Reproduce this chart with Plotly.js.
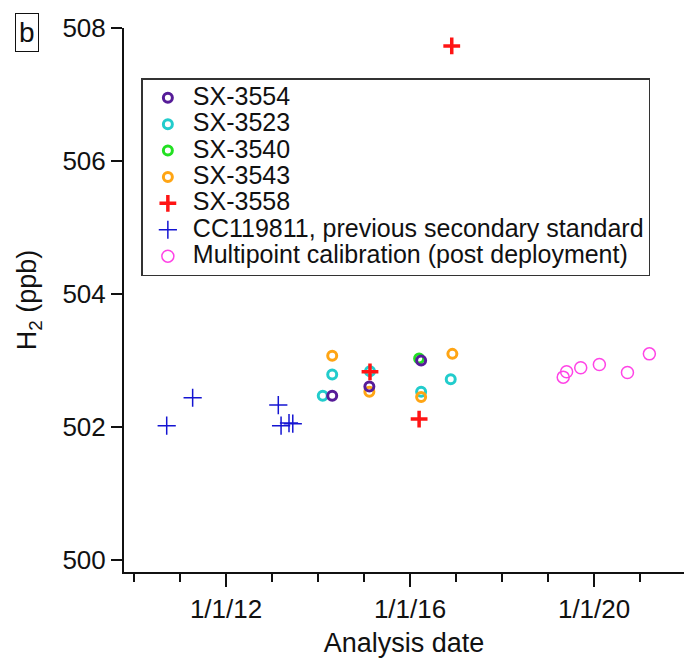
<!DOCTYPE html>
<html>
<head>
<meta charset="utf-8">
<script src="https://cdn.plot.ly/plotly-3.0.1.min.js"></script>
<style>html,body{margin:0;padding:0;background:#fff;}#chart{width:684px;height:658px;}</style>
</head>
<body>
<div id="chart"></div>
<script>
// ---- data ----
const sx3554Dates = ['2014-04-23', '2015-02-12', '2016-03-29'];
const sx3554Vals  = [502.47, 502.61, 503.00];

const sx3523Dates = ['2014-02-07', '2014-04-23', '2015-02-17', '2016-03-29', '2016-11-19'];
const sx3523Vals  = [502.47, 502.79, 502.84, 502.53, 502.72];

const sx3540Dates = ['2016-03-13'];
const sx3540Vals  = [503.03];

const sx3543Dates = ['2014-04-23', '2015-02-12', '2016-03-29', '2016-12-02'];
const sx3543Vals  = [503.07, 502.53, 502.45, 503.10];

const sx3558Dates = ['2015-02-17', '2016-03-13', '2016-11-27'];
const sx3558Vals  = [502.83, 502.12, 507.73];

const cc119811Dates = ['2010-09-17', '2011-04-11', '2013-02-19', '2013-03-13', '2013-05-15', '2013-06-14'];
const cc119811Vals  = [502.02, 502.44, 502.33, 502.02, 502.06, 502.05];

const multiDates = ['2019-05-01', '2019-05-28', '2019-09-17', '2020-02-12', '2020-09-22', '2021-03-15'];
const multiVals  = [502.75, 502.83, 502.89, 502.94, 502.82, 503.10];

const seriesNames = ['SX-3554', 'SX-3523', 'SX-3540', 'SX-3543', 'SX-3558',
  'CC119811, previous secondary standard', 'Multipoint calibration (post deployment)'];

// ---- styling ----
const FONT = 'Liberation Sans, Arial, Helvetica, sans-serif';
const lbl = s => '<span style="font-size:25px">' + s + '</span>';

function openCircle(x, y, name, color, rank, size, lw) {
  return {
    type: 'scatter', mode: 'markers', x: x, y: y, name: lbl(name), legendrank: rank,
    marker: {symbol: 'circle-open', size: size, color: color, line: {color: color, width: lw}},
    hoverinfo: 'x+y'
  };
}
function cross(x, y, name, color, rank, size, lw) {
  return {
    type: 'scatter', mode: 'markers', x: x, y: y, name: lbl(name), legendrank: rank,
    marker: {symbol: 'cross-thin-open', size: size, color: color, line: {color: color, width: lw}},
    hoverinfo: 'x+y'
  };
}

const traces = [
  cross(cc119811Dates, cc119811Vals, seriesNames[5], '#1414d2', 6, 13, 1.5),
  openCircle(multiDates, multiVals, seriesNames[6], '#ff44e6', 7, 12, 1.5),
  openCircle(sx3523Dates, sx3523Vals, seriesNames[1], '#22cccc', 2, 9, 3),
  openCircle(sx3543Dates, sx3543Vals, seriesNames[3], '#ffa514', 4, 9, 3),
  openCircle(sx3540Dates, sx3540Vals, seriesNames[2], '#22e022', 3, 9, 3),
  openCircle(sx3554Dates, sx3554Vals, seriesNames[0], '#561c98', 1, 9, 3),
  cross(sx3558Dates, sx3558Vals, seriesNames[4], '#ff1414', 5, 12, 3.5)
];

const layout = {
  width: 684, height: 658,
  margin: {l: 124, r: 0, t: 28, b: 86},
  paper_bgcolor: '#fff', plot_bgcolor: '#fff',
  font: {family: FONT, size: 26, color: '#111'},
  showlegend: true,
  legend: {
    x: 0.031, y: 0.908, xanchor: 'left', yanchor: 'top',
    bgcolor: '#fff', bordercolor: '#333', borderwidth: 1.5,
    font: {family: FONT, size: 18, color: '#111'},
    itemwidth: 40,
    tracegroupgap: 0, itemclick: false, itemdoubleclick: false
  },
  xaxis: {
    type: 'date',
    range: ['2009-10-13', '2021-12-15'],
    showgrid: false, zeroline: false,
    showline: true, linecolor: '#111', linewidth: 2,
    ticks: 'outside', ticklen: 13, tickwidth: 2, tickcolor: '#111',
    tick0: '2012-01-01', dtick: 'M48', tickformat: '%-m/%-d/%y',
    tickfont: {family: FONT, size: 26, color: '#111'},
    minor: {dtick: 'M12', tick0: '2012-01-01', ticks: 'outside', ticklen: 8, tickwidth: 2, tickcolor: '#111', showgrid: false},
    title: {text: 'Analysis date', font: {family: FONT, size: 27, color: '#111'}, standoff: 10},
    fixedrange: true
  },
  yaxis: {
    range: [499.82, 508],
    showgrid: false, zeroline: false,
    showline: true, linecolor: '#111', linewidth: 2,
    ticks: 'outside', ticklen: 11, tickwidth: 2, tickcolor: '#111',
    tick0: 500, dtick: 2,
    tickfont: {family: FONT, size: 26, color: '#111'},
    title: {text: 'H<sub>2</sub> (ppb)', font: {family: FONT, size: 27, color: '#111'}, standoff: 18},
    fixedrange: true
  },
  annotations: [{
    text: 'b', xref: 'paper', yref: 'paper', x: -0.1726, y: 0.991,
    xanchor: 'center', yanchor: 'middle', showarrow: false,
    font: {family: FONT, size: 28, color: '#111'},
    bordercolor: '#111', borderwidth: 1, borderpad: 3, bgcolor: '#fff'
  }]
};

Plotly.newPlot('chart', traces, layout, {displayModeBar: false, staticPlot: true});
</script>
</body>
</html>
